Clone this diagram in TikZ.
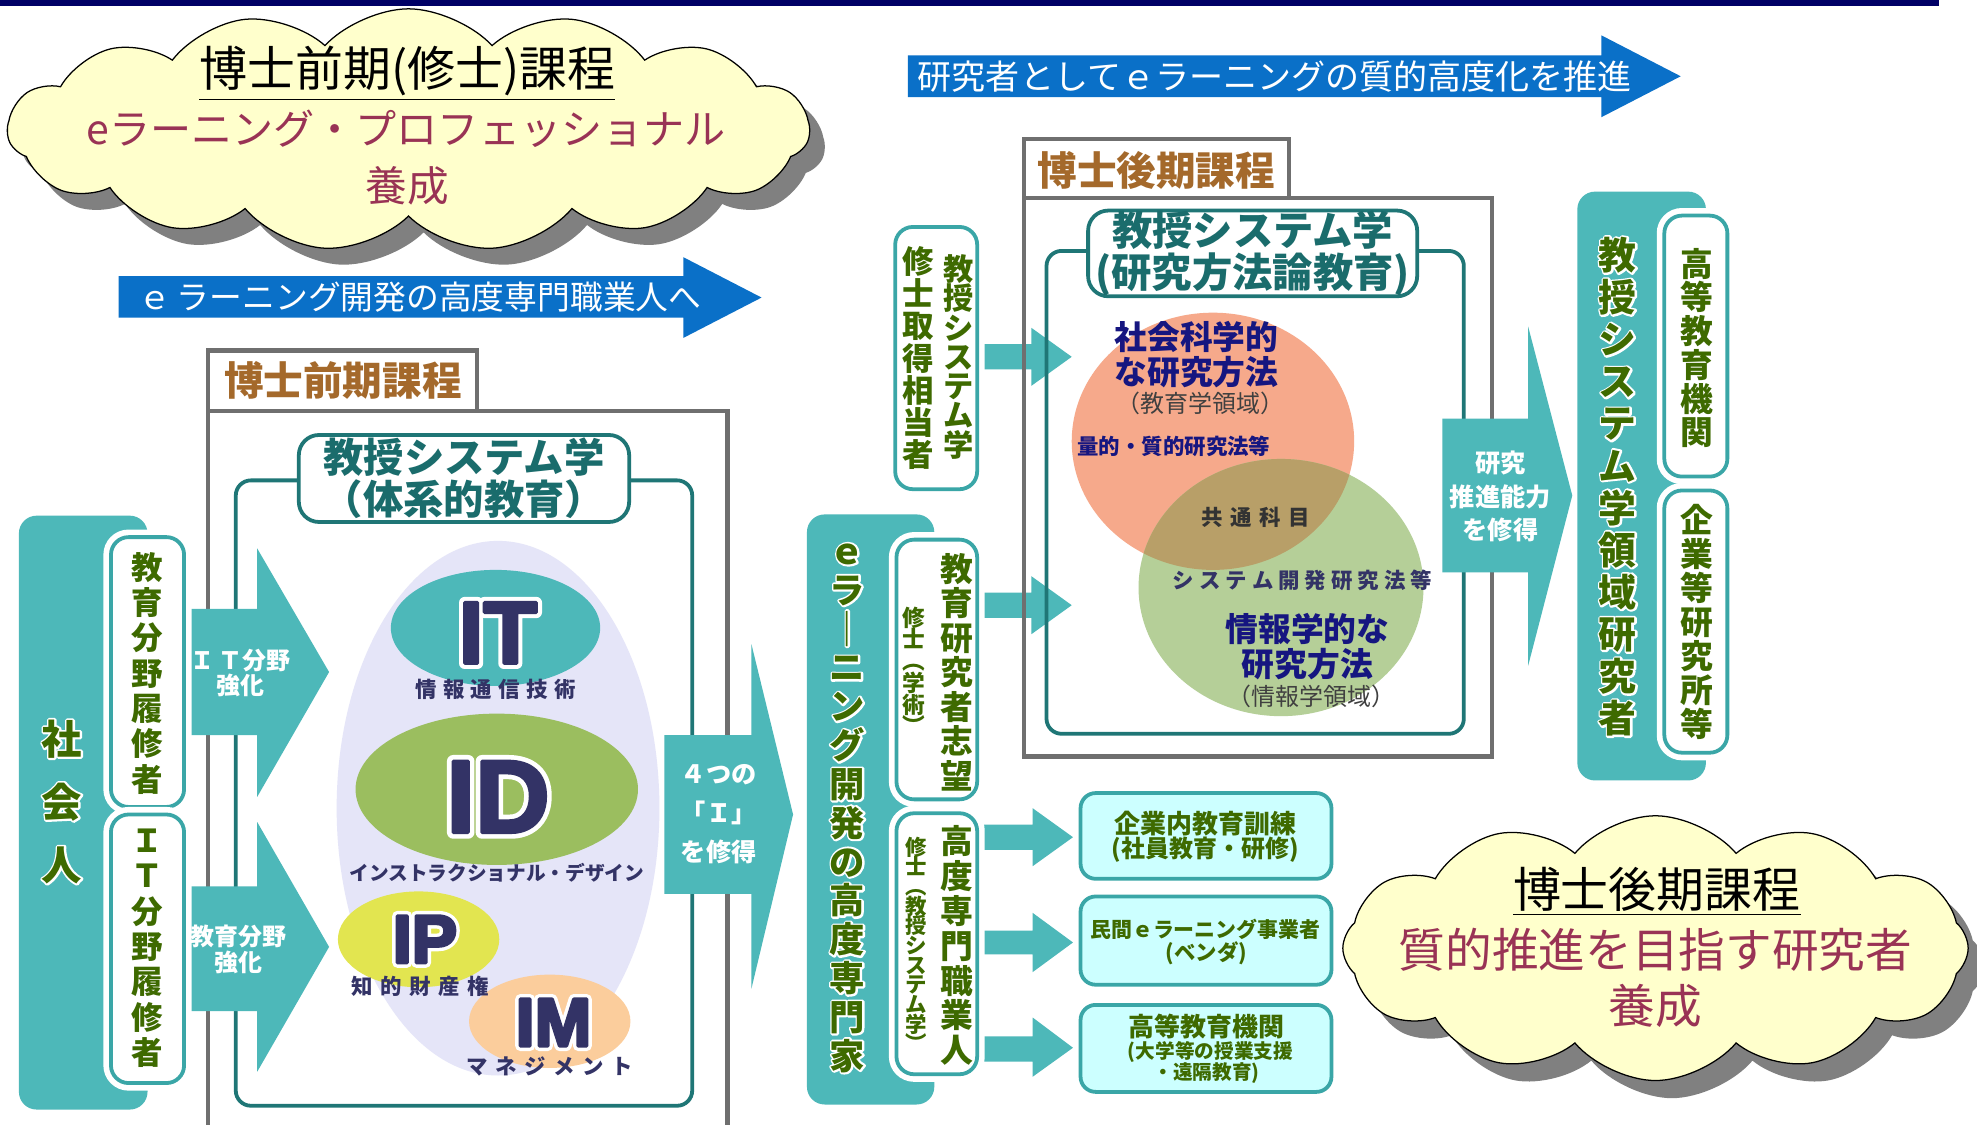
\documentclass[tikz,border=0pt]{standalone}
\usepackage{fontspec}
\setmainfont{Noto Sans CJK JP}
\newfontfamily\latinbold{Liberation Sans}
\usetikzlibrary{shapes.symbols}

\definecolor{navybar}{HTML}{000066}
\definecolor{tealfill}{HTML}{4DB8B9}
\definecolor{tealline}{HTML}{1F7676}
\definecolor{tealedge}{HTML}{3AA6A7}
\definecolor{tealtext}{HTML}{1A6C6C}
\definecolor{olive}{HTML}{3E6A00}
\definecolor{brownlbl}{HTML}{A4692B}
\definecolor{boxgray}{HTML}{6F6F6F}
\definecolor{arrowblue}{HTML}{0A70C8}
\definecolor{venntext}{HTML}{161680}
\definecolor{letter}{HTML}{333366}
\definecolor{lavender}{HTML}{E5E5F8}
\definecolor{itfill}{HTML}{4DB8B9}
\definecolor{idfill}{HTML}{9BBE5F}
\definecolor{ipfill}{HTML}{E2E550}
\definecolor{imfill}{HTML}{FBCD9C}
\definecolor{salmon}{HTML}{F6A98B}
\definecolor{sagegreen}{HTML}{B5CF98}
\definecolor{lens}{HTML}{B89F68}
\definecolor{cloudfill}{HTML}{FFFFCC}
\definecolor{cloudshade}{HTML}{808080}
\definecolor{maroon}{HTML}{993355}
\definecolor{paleteal}{HTML}{CCFFFF}
\definecolor{darkgraytext}{HTML}{404040}

\newcommand\fs[2]{\fontsize{#1}{#2}\selectfont}

% white outline laid under the glyphs
\newcommand\halo[2][1.5]{\leavevmode
  \rlap{\special{pdf:literal direct 1 Tr #1 w 1 1 1 RG 1 j}#2\special{pdf:literal direct 0 Tr}}#2}
% heavy glyphs: outline in white, then fill plus a stroke in the letter colour
\newcommand\heavy[2][4.5]{\leavevmode
  \rlap{\special{pdf:literal direct 1 Tr #1 w 1 1 1 RG 1 j}#2\special{pdf:literal direct 0 Tr}}%
  {\special{pdf:literal direct 2 Tr 1.3 w 0.2 0.2 0.4 RG 1 j}#2\special{pdf:literal direct 0 Tr}}}

\ExplSyntaxOn
% one character per line, top to bottom
\NewDocumentCommand\vstack{sm}
 {
  \vbox:n
   {
    \tl_map_inline:nn {#2}
     {
      \hbox_to_wd:nn {1.2em} { \hss \IfBooleanTF{#1}{\halo{##1}}{##1} \hss }
     }
   }
 }
% letter-spaced line
\NewDocumentCommand\spaced{O{3pt}m}
 {
  \bool_gset_true:N \g_tmpa_bool
  \tl_map_inline:nn {#2}
   {
    \bool_if:NF \g_tmpa_bool { \kern #1 \scan_stop: }
    \bool_gset_false:N \g_tmpa_bool
    ##1
   }
 }
\ExplSyntaxOff

\begin{document}
\lineskiplimit=-100pt
\lineskip=0pt
\begin{tikzpicture}[x=0.5pt,y=-0.5pt,
  every node/.style={inner sep=0pt, outer sep=0pt},
  framegray/.style={draw=boxgray, line width=1.6pt},
  tealframe/.style={draw=tealline, line width=1.5pt, rounded corners=6pt},
  titlebox/.style={draw=tealline, line width=1.5pt, fill=white, rounded corners=8pt,
    align=center, text=tealtext, font=\fs{16}{16.5}\bfseries},
  wbox/.style={draw=tealedge, line width=1.5pt, fill=white, rounded corners=7pt,
    preaction={draw=white, line width=6pt}},
  outbox/.style={draw=tealedge, line width=1.5pt, fill=paleteal, rounded corners=6pt},
  tealblock/.style={fill=tealfill, rounded corners=7pt},
  col/.style={text=olive},
]
\useasboundingbox (0,0) rectangle (1568,892);
\fill[white] (0,0) rectangle (1568,892);

% top rule
\fill[navybar] (0,0) rectangle (1538,4.5);

% ---------- master's course cloud ----------
\tikzset{cloudA/.style={cloud, cloud puffs=15, cloud puff arc=95, aspect=3.4,
  minimum width=318pt, minimum height=96pt}}
\node[cloudA, fill=cloudshade] (cloudAshade) at (336,116) {};
\node[cloudA, fill=cloudfill, draw=black, line width=0.5pt] (cloudA) at (324,103) {};
\node[font=\fs{19}{22}, text=black] (cloudAhead) at (323,58) {\underline{博士前期(修士)課程}};
\node[font=\fs{16.3}{20}, text=maroon] (cloudAline) at (322,102) {eラーニング・プロフェッショナル};
\node[font=\fs{16.5}{20}, text=maroon] (cloudAyo) at (323,147) {養成};

% ---------- blue direction arrows ----------
\fill[arrowblue] (94,219) -- (542,219) -- (542,204) -- (604,236) -- (542,268) -- (542,252) -- (94,252) -- cycle;
\node[font=\fs{13}{15}, text=white, anchor=west] (proArrowText) at (110,236) {ｅ\,ラーニング開発の高度専門職業人へ};
\fill[arrowblue] (720,44) -- (1270,44) -- (1270,28) -- (1333,60.5) -- (1270,93) -- (1270,77) -- (720,77) -- cycle;
\node[font=\fs{13.5}{15}, text=white, anchor=west] (resArrowText) at (728,61) {研究者としてｅラーニングの質的高度化を推進};

% ---------- master's course frame ----------
\draw[framegray] (165,278) rectangle (378,326);
\draw[framegray] (165,892) -- (165,326) -- (577,326) -- (577,892);
\node[font=\fs{15.7}{18}\bfseries, text=brownlbl] (mLabel) at (272,302) {博士前期課程};
\draw[tealframe] (187,381) rectangle (549,877);
\node[titlebox, minimum width=131pt, minimum height=34.5pt] (mTitle) at (368,379.5) {教授システム学\\（体系的教育）};

% four I's
\fill[lavender] (395,641) ellipse [x radius=128, y radius=212];
\fill[itfill] (393,498) ellipse [x radius=83, y radius=46];
\fill[idfill] (394,626) ellipse [x radius=112, y radius=60];
\fill[ipfill] (332,745) ellipse [x radius=64, y radius=38];
\fill[imfill] (436,810) ellipse [x radius=64, y radius=37];
\node[font=\latinbold\bfseries\fs{35}{40}, text=letter] (itText) at (395,502) {\heavy{IT}};
\node[font=\fs{8.5}{10}\bfseries, text=letter] (itLabel) at (393,547) {\spaced[2.5pt]{情報通信技術}};
\node[font=\latinbold\bfseries\fs{41}{46}, text=letter] (idText) at (395,632) {\heavy[5]{ID}};
\node[font=\fs{7.8}{10}\bfseries, text=letter] (idLabel) at (394,692) {インストラクショナル・デザイン};
\node[font=\latinbold\bfseries\fs{27}{32}, text=letter] (ipText) at (337,745) {\heavy[4]{IP}};
\node[font=\fs{8.5}{10}\bfseries, text=letter] (ipLabel) at (333,782) {\spaced[3pt]{知的財産権}};
\node[font=\latinbold\bfseries\fs{27}{32}, text=letter] (imText) at (439,811) {\heavy[4]{IM}};
\node[font=\fs{8.5}{10}\bfseries, text=letter] (imLabel) at (436,846) {\spaced[3pt]{マネジメント}};

% ---------- working adults ----------
\fill[tealblock] (15,409) rectangle (117,880);
\fill[tealfill] (140,483) -- (204,483) -- (204,435) -- (261,533) -- (204,632) -- (204,583) -- (140,583) -- cycle;
\fill[tealfill] (140,703) -- (204,703) -- (204,652) -- (261,751) -- (204,850) -- (204,802) -- (140,802) -- cycle;
\draw[wbox] (88,426) rectangle (146,640);
\draw[wbox] (88,646) rectangle (146,859);
\node[font=\fs{16}{25}\bfseries, col] (shakaijin) at (49,636) {\vstack*{社会人}};
\node[font=\fs{12.5}{14}\bfseries, col] (eduTrack) at (117,534) {\vstack{教育分野履修者}};
\node[font=\fs{12.5}{14}\bfseries, col] (itTrack) at (117,752) {\vstack{ＩＴ分野履修者}};
\node[font=\fs{9.5}{10}\bfseries, text=white, align=center] (itBoost) at (191,534) {Ｉ\,Ｔ分野\\強化};
\node[font=\fs{9.5}{10}\bfseries, text=white, align=center] (eduBoost) at (189,753) {教育分野\\強化};

% four I's acquired
\fill[tealfill] (527,583) -- (596,583) -- (596,511) -- (629,646) -- (596,784) -- (596,709) -- (527,709) -- cycle;
\node[font=\fs{10}{15.5}\bfseries, text=white, align=center] (fourI) at (570,646) {４つの\\「Ｉ」\\を修得};

% ---------- e-learning professionals ----------
\fill[tealfill] (770,273) -- (818,273) -- (818,260) -- (850,283) -- (818,306) -- (818,293) -- (770,293) -- cycle;
\fill[tealfill] (770,470) -- (818,470) -- (818,457) -- (850,480) -- (818,503) -- (818,490) -- (770,490) -- cycle;
\fill[tealfill] (770,654) -- (819,654) -- (819,641) -- (851,664) -- (819,687) -- (819,674) -- (770,674) -- cycle;
\fill[tealfill] (770,738) -- (819,738) -- (819,724) -- (851,747.5) -- (819,771) -- (819,757) -- (770,757) -- cycle;
\fill[tealfill] (770,822) -- (819,822) -- (819,807) -- (851,831) -- (819,854) -- (819,842) -- (770,842) -- cycle;
\fill[tealblock] (640,408) rectangle (741,876);
\draw[wbox] (711,428) rectangle (775,634);
\draw[wbox] (711,645) rectangle (775,852);
\draw[wbox] (710,180) rectangle (775,388);
\node[font=\fs{14}{15.4}\bfseries, col] (elearnPro) at (672,641) {\vstack*{ｅラ｜ニング開発の高度専門家}};
\node[font=\fs{13}{13.7}\bfseries, col] (researchAim) at (759,533) {\vstack{教育研究者志望}};
\node[font=\fs{9}{8.6}\bfseries, col] (msAcad) at (725,532) {\vstack{修士︵学術︶}};
\node[font=\fs{13}{13.8}\bfseries, col] (highPro) at (759,750) {\vstack{高度専門職業人}};
\node[font=\fs{8.5}{7.8}\bfseries, col] (msIS) at (727,749) {\vstack{修士︵教授システム学︶}};
\node[font=\fs{12}{11.6}\bfseries, col] (isStudy) at (760,283) {\vstack{教授システム学}};
\node[font=\fs{12.5}{12.8}\bfseries, col] (msEquiv) at (728,284) {\vstack{修士取得相当者}};

% career destinations
\node[outbox, minimum width=99.5pt, minimum height=34pt] (corpBox) at (956.5,663) {};
\node[outbox, minimum width=99.5pt, minimum height=35pt] (vendBox) at (956.5,746) {};
\node[outbox, minimum width=99.5pt, minimum height=34.5pt] (univBox) at (956.5,831.5) {};
\node[font=\fs{10.3}{12}\bfseries, col] (corpA) at (956,653) {企業内教育訓練};
\node[font=\fs{9.5}{12}\bfseries, col] (corpB) at (956,674) {(社員教育・研修)};
\node[font=\fs{8.3}{10}\bfseries, col] (vendA) at (956,737) {民間ｅラーニング事業者};
\node[font=\fs{8.5}{10}\bfseries, col] (vendB) at (957,756) {(ベンダ)};
\node[font=\fs{10.3}{12}\bfseries, col] (univA) at (957,814) {高等教育機関};
\node[font=\fs{7.8}{9}\bfseries, col] (univB) at (960,834) {(大学等の授業支援};
\node[font=\fs{7.8}{9}\bfseries, col] (univC) at (957,851) {・遠隔教育)};

% ---------- doctoral course frame ----------
\draw[framegray] (812,110) rectangle (1022,157);
\draw[framegray] (812,157) rectangle (1183,600);
\node[font=\fs{15.7}{18}\bfseries, text=brownlbl] (dLabel) at (917,135) {博士後期課程};
\draw[tealframe] (830,199) rectangle (1161,582);

% research methods
\fill[salmon] (962,350) ellipse [x radius=112, y radius=102];
\fill[sagegreen] (1016,466) ellipse [x radius=113, y radius=102];
\begin{scope}
  \clip (962,350) ellipse [x radius=112, y radius=102];
  \fill[lens] (1016,466) ellipse [x radius=113, y radius=102];
\end{scope}
\node[titlebox, minimum width=130.5pt, minimum height=34pt] (dTitle) at (993.5,201) {教授システム学\\(研究方法論教育)};
\node[font=\fs{13}{14}\bfseries, text=venntext, align=center] (socSci) at (949,281) {社会科学的\\な研究方法};
\node[font=\fs{9.5}{11}, text=darkgraytext] (socSciSub) at (952,320) {（教育学領域）};
\node[font=\fs{8.5}{10}\bfseries, text=venntext] (quant) at (931,354) {量的・質的研究法等};
\node[font=\fs{8.5}{10}\bfseries, text=black!80] (common) at (996,410) {\spaced[3pt]{共通科目}};
\node[font=\fs{8.5}{10}\bfseries, text=letter] (sysdev) at (1033,460) {\spaced[2pt]{システム開発研究法等}};
\node[font=\fs{13}{14}\bfseries, text=venntext, align=center] (infoSci) at (1037,513) {情報学的な\\研究方法};
\node[font=\fs{9.5}{11}, text=darkgraytext] (infoSciSub) at (1040,552) {（情報学領域）};

% research ability arrow
\fill[tealfill] (1144,332) -- (1212,332) -- (1212,259) -- (1247,393) -- (1212,528) -- (1212,454) -- (1144,454) -- cycle;
\node[font=\fs{10}{13.3}\bfseries, text=white, align=center] (resAbility) at (1190,394) {研究\\推進能力\\を修得};

% ---------- researchers ----------
\fill[tealblock] (1251,152) rectangle (1353,619);
\draw[wbox] (1320,171) rectangle (1370,378);
\draw[wbox] (1320,389) rectangle (1370,597);
\node[font=\fs{15}{16.7}\bfseries, col] (isResearcher) at (1283,386) {\vstack*{教授システム学領域研究者}};
\node[font=\fs{13}{13.4}\bfseries, col] (heInst) at (1346,276) {\vstack{高等教育機関}};
\node[font=\fs{13}{13.5}\bfseries, col] (corpLab) at (1346,493) {\vstack{企業等研究所等}};

% ---------- doctoral course cloud ----------
\tikzset{cloudB/.style={cloud, cloud puffs=12, cloud puff arc=100, aspect=2.4,
  minimum width=248pt, minimum height=105pt}}
\node[cloudB, fill=cloudshade] (cloudBshade) at (1326,766) {};
\node[cloudB, fill=cloudfill, draw=black, line width=0.5pt] (cloudB) at (1313,752) {};
\node[font=\fs{19}{22}, text=black] (cloudBhead) at (1314,707) {\underline{博士後期課程}};
\node[font=\fs{18.5}{22}, text=maroon] (cloudBline) at (1313,753) {質的推進を目指す研究者};
\node[font=\fs{18.5}{22}, text=maroon] (cloudByo) at (1313,798) {養成};
\end{tikzpicture}
\end{document}
